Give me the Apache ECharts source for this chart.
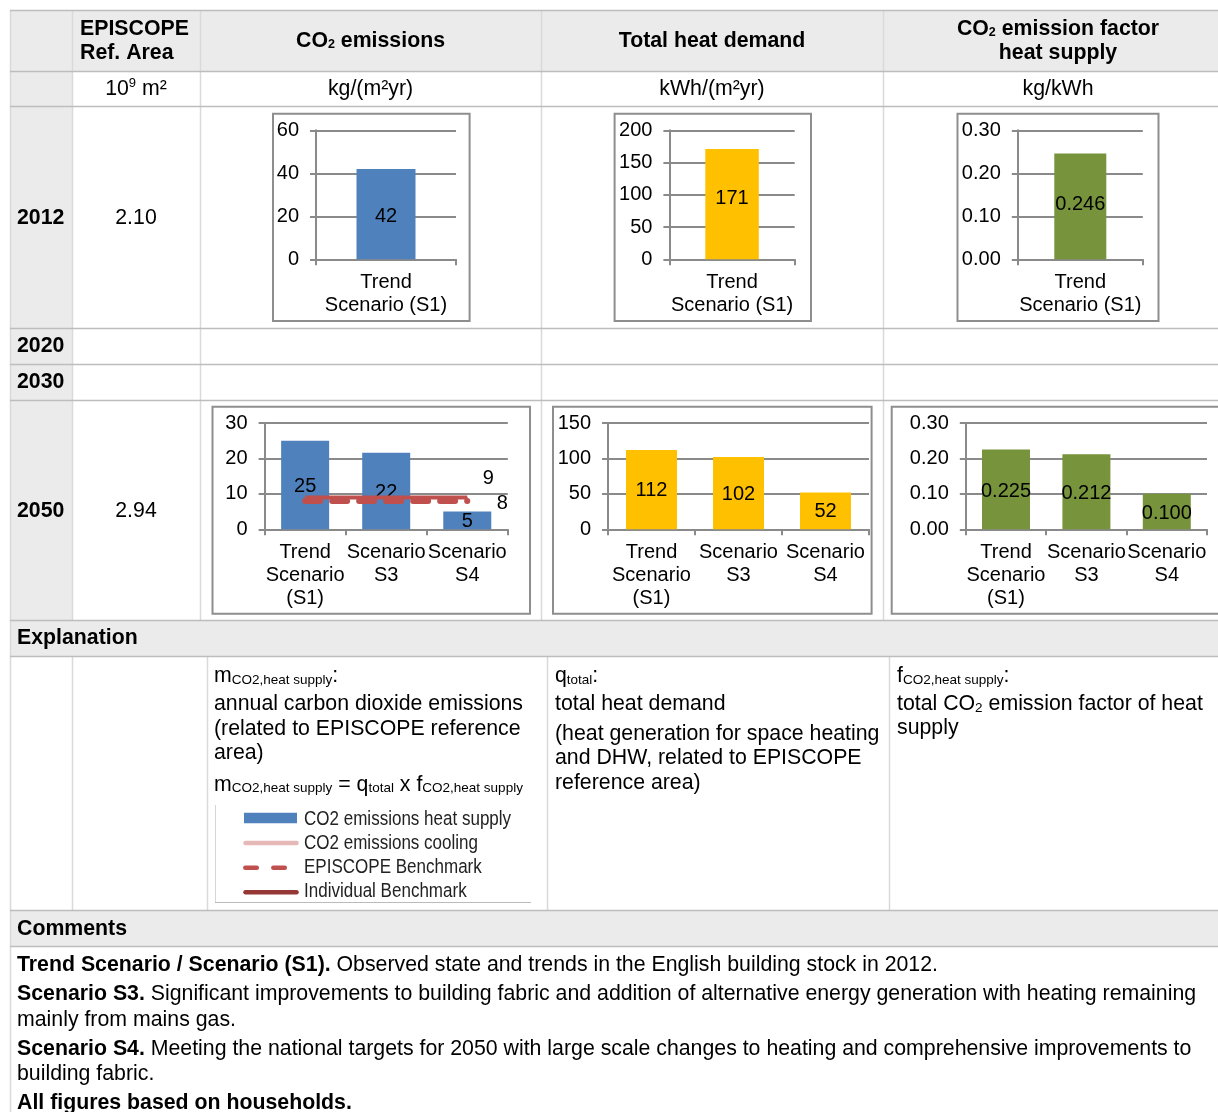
<!DOCTYPE html>
<html>
<head>
<meta charset="utf-8">
<script src="https://cdn.jsdelivr.net/npm/echarts@6/dist/echarts.min.js"></script>
<style>
html,body{margin:0;padding:0;background:#fff;overflow:hidden;}
#c{width:1218px;height:1112px;}
</style>
</head>
<body>
<div id="c"></div>
<script>
// ---------------- data ----------------
const years = ['2012', '2020', '2030', '2050'];
const refArea = ['2.10', '', '', '2.94'];
const cats2012 = ['Trend\nScenario (S1)'];
const cats2050 = ['Trend\nScenario\n(S1)', 'Scenario\nS3', 'Scenario\nS4'];
const co2_2012 = [42];
const heat_2012 = [171];
const factor_2012 = [0.246];
const co2_2050 = [25, 21.6, 5];
const heat_2050 = [112, 102, 52];
const factor_2050 = [0.225, 0.212, 0.100];
const individualBenchmark2050 = [9, 9, 9];
const episcopeBenchmark2050 = [8, 8, 8];
const axisMax = { co2_2012: 60, heat_2012: 200, factor_2012: 0.3, co2_2050: 30, heat_2050: 150, factor_2050: 0.3 };
const axisStep = { co2_2012: 20, heat_2012: 50, factor_2012: 0.1, co2_2050: 10, heat_2050: 50, factor_2050: 0.1 };
const legendNames = ['CO2 emissions heat supply', 'CO2 emissions cooling', 'EPISCOPE Benchmark', 'Individual Benchmark'];

// ---------------- helpers ----------------
const FONT = '"Liberation Sans", Arial, Helvetica, sans-serif';
const FS = 21.3;
const G = [];
function R(x, y, w, h, fill, z, stroke, lw) {
  G.push({ type: 'rect', silent: true, z: z || 0, shape: { x, y, width: w, height: h },
    style: { fill: fill || 'none', stroke: stroke || null, lineWidth: lw || 0 } });
}
function L(x1, y1, x2, y2, stroke, lw, z, extra) {
  G.push({ type: 'line', silent: true, z: z || 1, shape: { x1, y1, x2, y2 },
    style: Object.assign({ stroke, lineWidth: lw || 1 }, extra || {}) });
}
function T(x, y, text, o) {
  o = o || {};
  const st = { text, fill: o.fill || '#000', fontSize: o.size || FS, fontFamily: FONT,
    fontWeight: o.bold ? 'bold' : 'normal', align: o.align || 'left', textAlign: o.align || 'left',
    verticalAlign: 'middle', textVerticalAlign: 'middle' };
  if (o.rich) st.rich = o.rich;
  const el = { type: 'text', silent: true, z: 10, x, y, style: st };
  if (o.scaleX) el.scaleX = o.scaleX;
  G.push(el);
}
function rs(size, bold, lh, va, color) {
  return { fontSize: size, fontFamily: FONT, fontWeight: bold ? 'bold' : 'normal', lineHeight: lh, verticalAlign: va, color: color || '#000' };
}
const richSub = { m: rs(FS, false, 21, 'middle'), s: rs(13.5, false, 14, 'bottom') };
const richSubBold = { b: rs(FS, true, 20, 'middle'), s: rs(12.5, true, 12.5, 'bottom') };
const richSup = { n: rs(FS, false, 24, 'middle'), p: rs(13, false, 16, 'top') };
const richMix = { b: rs(FS, true, 26, 'middle'), r: rs(FS, false, 26, 'middle') };

// ---------------- table ----------------
const W = 1218;
const GRAY = '#ebebeb', HL = '#bdbdbd', VL = '#d9d9d9';
R(10, 10, W - 10, 61, GRAY);          // header row
R(10, 71, 62, 549, GRAY);             // year column
R(10, 620, W - 10, 36, GRAY);         // explanation header
R(10, 910, W - 10, 36, GRAY);         // comments header
[10, 71, 106, 328, 364, 400, 620, 656, 910, 946].forEach(y => L(10, y + 0.5, W, y + 0.5, HL, 1.5, 2));
[72, 200, 541, 883].forEach(x => L(x + 0.5, 10, x + 0.5, 620, VL, 1.5, 1));
[72, 207, 547, 889].forEach(x => L(x + 0.5, 656, x + 0.5, 910, VL, 1.5, 1));
L(10.5, 10, 10.5, 1112, VL, 1.5, 1);

// header texts
T(80, 29, 'EPISCOPE', { bold: true });
T(80, 53, 'Ref. Area', { bold: true });
T(370.5, 41, '{b|CO}{s|2}{b| emissions}', { align: 'center', rich: richSubBold });
T(712, 41, 'Total heat demand', { bold: true, align: 'center' });
T(1058, 29, '{b|CO}{s|2}{b| emission factor}', { align: 'center', rich: richSubBold });
T(1058, 53, 'heat supply', { bold: true, align: 'center' });
// units
T(136, 89, '{n|10}{p|9}{n| m²}', { align: 'center', rich: richSup });
T(370.5, 89, 'kg/(m²yr)', { align: 'center' });
T(712, 89, 'kWh/(m²yr)', { align: 'center' });
T(1058, 89, 'kg/kWh', { align: 'center' });
// year rows
const rowY = [218, 346, 382, 510.7];
years.forEach((yr, i) => {
  T(17, rowY[i], yr, { bold: true });
  if (refArea[i]) T(136, rowY[i], refArea[i], { align: 'center' });
});
T(17, 638, 'Explanation', { bold: true });
T(17, 929, 'Comments', { bold: true });

// explanation texts
T(214, 676.5, '{m|m}{s|CO2,heat supply}{m|:}', { rich: richSub });
T(214, 704.5, 'annual carbon dioxide emissions');
T(214, 728.7, '(related to EPISCOPE reference');
T(214, 753, 'area)');
T(214, 784.7, '{m|m}{s|CO2,heat supply}{m| = q}{s|total}{m| x f}{s|CO2,heat supply}', { rich: richSub });
T(555, 676.5, '{m|q}{s|total}{m|:}', { rich: richSub });
T(555, 704.5, 'total heat demand');
T(555, 734.5, '(heat generation for space heating');
T(555, 758.5, 'and DHW, related to EPISCOPE');
T(555, 783, 'reference area)');
T(897, 676.5, '{m|f}{s|CO2,heat supply}{m|:}', { rich: richSub });
T(897, 704.5, '{m|total CO}{s|2}{m| emission factor of heat}', { rich: richSub });
T(897, 728.5, 'supply');

// explanation legend (image of a chart legend)
L(215.5, 805, 215.5, 903, '#d6d6d6', 1, 1);
L(215, 902.5, 531, 902.5, '#bbbbbb', 1.2, 1);
R(244, 812.7, 53, 10.6, '#4f81bd', 3);
L(245.5, 843, 296.5, 843, '#e6b9b8', 4.5, 3, { lineCap: 'round' });
L(245.3, 867.8, 286, 867.8, '#c0504d', 4.5, 3, { lineCap: 'round', lineDash: [11.5, 16.5] });
L(245.5, 892.3, 296.5, 892.3, '#953735', 4.5, 3, { lineCap: 'round' });
const legY = [819, 843, 867.3, 891.3];
legendNames.forEach((n, i) => T(304, legY[i], n, { size: 20.5, fill: '#222', scaleX: 0.83 }));

// comments
const comY = [965, 994.5, 1020, 1049, 1074, 1103];
T(17, comY[0], '{b|Trend Scenario / Scenario (S1).}{r| Observed state and trends in the English building stock in 2012.}', { rich: richMix });
T(17, comY[1], '{b|Scenario S3.}{r| Significant improvements to building fabric and addition of alternative energy generation with heating remaining}', { rich: richMix });
T(17, comY[2], 'mainly from mains gas.');
T(17, comY[3], '{b|Scenario S4.}{r| Meeting the national targets for 2050 with large scale changes to heating and comprehensive improvements to}', { rich: richMix });
T(17, comY[4], 'building fabric.');
T(17, comY[5], 'All figures based on households.', { bold: true });

// chart frames
const BOX = '#8e8e8e';
R(273, 113.7, 196.6, 207.3, '#fff', 1, BOX, 2);
R(614.6, 113.7, 196.4, 207.3, '#fff', 1, BOX, 2);
R(957.5, 113.7, 201, 207.3, '#fff', 1, BOX, 2);
R(212.5, 406.7, 317.5, 207, '#fff', 1, BOX, 2);
R(553, 406.7, 318.6, 207, '#fff', 1, BOX, 2);
R(891.7, 406.7, 340, 207, '#fff', 1, BOX, 2);

// ---------------- charts ----------------
const AX = '#8a8a8a';
const grids = [
  { left: 316, top: 130.3, width: 140, height: 129 },
  { left: 669.4, top: 130.3, width: 125.3, height: 129 },
  { left: 1017.8, top: 130.3, width: 125, height: 129 },
  { left: 264.6, top: 423, width: 243.2, height: 106.3 },
  { left: 608, top: 423, width: 261, height: 106.3 },
  { left: 965.8, top: 423, width: 241.2, height: 106.3 }
].map(g => Object.assign(g, { containLabel: false, outerBoundsMode: 'none', show: false }));

function mkX(gi, data) {
  return { type: 'category', gridIndex: gi, data, boundaryGap: true, z: 3,
    axisLine: { show: true, onZero: false, lineStyle: { color: AX, width: 2 } },
    axisTick: { show: true, length: 6, interval: 0, alignWithLabel: false, lineStyle: { color: AX, width: 2 } },
    axisLabel: { show: true, interval: 0, hideOverlap: false, color: '#000', fontSize: 20, fontFamily: FONT, lineHeight: 23, margin: 12 },
    splitLine: { show: false } };
}
function mkY(gi, key, dec) {
  return { type: 'value', gridIndex: gi, min: 0, max: axisMax[key], interval: axisStep[key], z: 2,
    axisLine: { show: true, lineStyle: { color: AX, width: 2 } },
    axisTick: { show: true, inside: false, length: 6, lineStyle: { color: AX, width: 2 } },
    splitLine: { show: true, lineStyle: { color: AX, width: 2 } },
    axisLabel: { show: true, color: '#000', fontSize: 20, fontFamily: FONT, margin: 17,
      formatter: v => (+v).toFixed(dec) } };
}
function mkBar(gi, data, color, bw, dec, name, labelOffset) {
  return { type: 'bar', name, xAxisIndex: gi, yAxisIndex: gi, data, barWidth: bw, z: 4, silent: true,
    itemStyle: { color },
    label: { show: true, position: 'inside', offset: labelOffset || [0, 0], color: '#000', fontSize: 20, fontFamily: FONT,
      formatter: p => (+p.value).toFixed(dec) } };
}
function mkLine(name, data, style, lastLabelOffset) {
  const last = data.length - 1;
  return { type: 'line', name, xAxisIndex: 3, yAxisIndex: 3, z: 5, silent: true,
    symbol: 'circle', symbolSize: 1, itemStyle: { color: style.color },
    lineStyle: style,
    data: data.map((v, i) => i === last
      ? { value: v, label: { show: true, position: 'right', offset: lastLabelOffset, color: '#000', fontSize: 20, fontFamily: FONT } }
      : v),
    label: { show: false } };
}

const option = {
  animation: false,
  textStyle: { fontFamily: FONT },
  grid: grids,
  xAxis: [mkX(0, cats2012), mkX(1, cats2012), mkX(2, cats2012), mkX(3, cats2050), mkX(4, cats2050), mkX(5, cats2050)],
  yAxis: [mkY(0, 'co2_2012', 0), mkY(1, 'heat_2012', 0), mkY(2, 'factor_2012', 2),
          mkY(3, 'co2_2050', 0), mkY(4, 'heat_2050', 0), mkY(5, 'factor_2050', 2)],
  series: [
    mkBar(0, co2_2012, '#4f81bd', 59, 0, 'CO2 emissions heat supply', [0, 2]),
    mkBar(1, heat_2012, '#ffc000', 53.5, 0, 'Total heat demand', [0, -6]),
    mkBar(2, factor_2012, '#77933c', 52, 3, 'CO2 emission factor', [0, -2]),
    mkBar(3, co2_2050, '#4f81bd', 48, 0, 'CO2 emissions heat supply', [0, 1]),
    mkBar(4, heat_2050, '#ffc000', 51, 0, 'Total heat demand', [0, 1]),
    mkBar(5, factor_2050, '#77933c', 48, 3, 'CO2 emission factor', [0, 2]),
    mkLine('Individual Benchmark', individualBenchmark2050, { color: '#c0504d', width: 4, type: 'solid' }, [10, -19]),
    mkLine('EPISCOPE Benchmark', episcopeBenchmark2050, { color: '#c0504d', width: 6, type: [15, 12], cap: 'round' }, [24, 3])
  ],
  graphic: { elements: G }
};

const chart = echarts.init(document.getElementById('c'), null, { renderer: 'canvas', width: 1218, height: 1112 });
chart.setOption(option);
</script>
</body>
</html>
